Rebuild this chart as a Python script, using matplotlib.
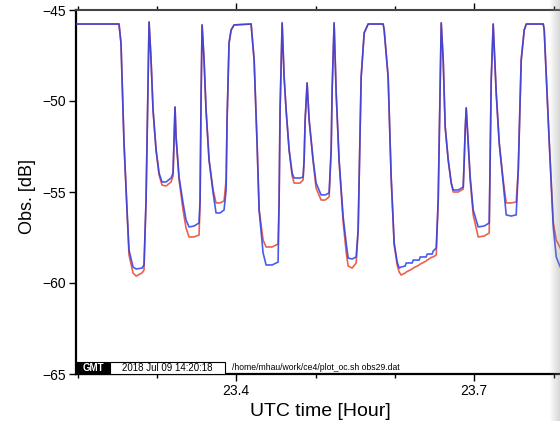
import numpy as np
import matplotlib.pyplot as plt
from matplotlib.patches import Rectangle

plt.rcParams['font.family'] = ['Liberation Sans', 'DejaVu Sans']

# UTC time [hour]
t = [23.1980, 23.2522, 23.2547, 23.2585, 23.2623, 23.2648, 23.2699, 23.2737, 23.2812, 23.2837, 23.2863, 23.2888, 23.2901,
     23.2926, 23.2951, 23.2989, 23.3027, 23.3064, 23.3115, 23.3178, 23.3203, 23.3216, 23.3228,
     23.3241, 23.3279, 23.3329, 23.3367, 23.3405, 23.3468, 23.3531, 23.3544, 23.3556, 23.3569,
     23.3594, 23.3619, 23.3657, 23.3708, 23.3745, 23.3796, 23.3846, 23.3872, 23.3884, 23.3909, 23.3935, 23.3972,
     23.4187, 23.4225, 23.4262, 23.4288, 23.4338, 23.4376, 23.4452, 23.4527, 23.4540, 23.4552, 23.4578,
     23.4603, 23.4628, 23.4666, 23.4704, 23.4729, 23.4805, 23.4842, 23.4855, 23.4868, 23.4893,
     23.4918, 23.4969, 23.5006, 23.5069, 23.5120, 23.5170, 23.5196, 23.5208, 23.5233,
     23.5259, 23.5296, 23.5347, 23.5385, 23.5410, 23.5460, 23.5511, 23.5536, 23.5574, 23.5612, 23.5662,
     23.5851, 23.5864, 23.5914, 23.5952, 23.5990, 23.6028, 23.6053, 23.6078,
     23.6129, 23.6141, 23.6217, 23.6230, 23.6305, 23.6318, 23.6393, 23.6406, 23.6469, 23.6482, 23.6520,
     23.6545, 23.6570, 23.6583, 23.6608, 23.6633, 23.6671, 23.6709, 23.6734, 23.6797, 23.6860,
     23.6873, 23.6885, 23.6898, 23.6923, 23.6948, 23.6986, 23.7049, 23.7125, 23.7188, 23.7201, 23.7213, 23.7238,
     23.7276, 23.7314, 23.7364, 23.7402, 23.7465, 23.7528, 23.7554, 23.7591, 23.7629, 23.7655,
     23.7869, 23.7881, 23.7945, 23.7995, 23.8033, 23.8083, 23.8146]

# blue trace [dB]
obs_blue = [-45.77, -45.77, -46.81, -52.31, -55.99, -58.19, -59.12, -59.23, -59.18, -59.01, -55.44, -48.85, -45.66,
            -47.75, -50.49, -52.69, -53.96, -54.45, -54.45, -54.23, -53.96, -52.14, -50.33,
            -51.98, -54.18, -55.60, -56.54, -56.92, -56.87, -56.70, -55.44, -49.95, -45.82,
            -47.75, -50.49, -53.24, -55.05, -56.15, -56.15, -55.99, -54.89, -51.04, -46.81, -46.10, -45.82,
            -45.77, -47.75, -52.31, -55.99, -58.35, -59.01, -59.01, -58.85, -55.44, -50.49, -45.71,
            -48.68, -50.49, -52.69, -53.96, -54.23, -54.23, -54.18, -53.24, -51.04, -49.01,
            -51.04, -53.24, -54.51, -55.16, -55.16, -55.05, -52.69, -49.40, -45.71,
            -49.56, -53.24, -56.37, -57.80, -58.63, -58.68, -58.57, -57.09, -48.68, -46.26, -45.77,
            -45.77, -46.10, -48.68, -54.18, -57.80, -58.85, -59.18, -59.12,
            -59.07, -58.90, -58.90, -58.74, -58.74, -58.57, -58.57, -58.41, -58.41, -58.24, -58.08,
            -55.44, -48.85, -45.71, -47.75, -51.43, -53.24, -54.51, -54.89, -54.89, -54.73,
            -53.24, -51.59, -50.38, -52.31, -54.18, -55.99, -56.92, -56.87, -56.70, -52.69, -48.85, -45.77,
            -49.56, -52.31, -54.51, -56.26, -56.32, -56.26, -53.79, -47.75, -46.10, -45.77,
            -45.77, -46.10, -52.31, -56.92, -58.57, -59.12, -59.56]

# red trace [dB]
obs_red = [-45.77, -45.77, -46.81, -52.31, -56.10, -58.46, -59.45, -59.62, -59.45, -59.29, -55.44, -48.85, -45.66,
           -47.75, -50.49, -52.69, -54.07, -54.62, -54.67, -54.45, -54.12, -52.14, -50.33,
           -51.98, -54.34, -55.99, -56.98, -57.47, -57.47, -57.36, -55.44, -49.95, -45.82,
           -47.75, -50.49, -53.24, -54.89, -55.60, -55.60, -55.49, -54.34, -51.04, -46.81, -46.10, -45.82,
           -45.77, -47.75, -52.31, -55.99, -57.64, -58.02, -58.02, -57.86, -55.44, -50.49, -45.71,
           -48.68, -50.49, -52.69, -54.12, -54.51, -54.51, -54.34, -53.24, -51.04, -49.01,
           -51.04, -53.35, -54.78, -55.44, -55.44, -55.27, -52.69, -49.40, -45.71,
           -49.56, -53.35, -56.65, -58.30, -59.07, -59.18, -58.90, -57.09, -48.68, -46.26, -45.77,
           -45.77, -46.10, -48.68, -54.18, -57.91, -59.01, -59.40, -59.56,
           -59.45, -59.40, -59.23, -59.18, -59.01, -58.96, -58.79, -58.74, -58.57, -58.57, -58.46,
           -55.44, -48.85, -45.71, -47.75, -51.43, -53.24, -54.51, -55.00, -55.00, -54.84,
           -53.24, -51.59, -50.38, -52.31, -54.34, -56.26, -57.47, -57.42, -57.25, -52.69, -48.85, -45.77,
           -49.56, -52.31, -54.34, -55.60, -55.60, -55.55, -53.79, -47.75, -46.10, -45.77,
           -45.77, -46.10, -52.31, -56.65, -57.64, -58.08, -58.30]

x_major = [23.4, 23.7]
x_minor = [23.2, 23.3, 23.5, 23.6, 23.8, 23.9]
y_major = [-65, -60, -55, -50, -45]

fig = plt.figure(figsize=(5.6, 4.21), dpi=100)
W, H = 560.0, 421.0
ax = fig.add_axes([76 / W, 47 / H, 557 / W, 364 / H])

ax.plot(t, obs_red, color='#e8452c', lw=1.2, alpha=0.85, solid_joinstyle='round', zorder=2)
ax.plot(t, obs_blue, color='#2a3fe8', lw=1.2, alpha=0.85, solid_joinstyle='round', zorder=3)

ax.set_xlim(23.198, 23.9)
ax.set_ylim(-65, -45)
ax.set_xticks(x_major)
ax.set_xticklabels(['23.4', '23.7'])
ax.set_xticks(x_minor, minor=True)
ax.set_yticks(y_major)
ax.set_yticklabels(['\u221265', '\u221260', '\u221255', '\u221250', '\u221245'])
ax.tick_params(which='both', direction='out', top=True, right=False, labelsize=10, width=1, pad=2)
ax.tick_params(which='major', length=5)
ax.tick_params(which='minor', length=3)
for s in ['left', 'bottom']:
    ax.spines[s].set_linewidth(1.6)
ax.spines['top'].set_linewidth(1.5)
ax.spines['top'].set_color('#444444')

fig.text(28 / W, 1 - 196 / H, 'Obs. [dB]', rotation=90, ha='center', va='center', fontsize=13)
fig.text(320 / W, 1 - 403 / H, 'UTC time [Hour]', ha='center', va='top', fontsize=14)

# GMT time stamp
fig.add_artist(Rectangle((76 / W, 47 / H), 34 / W, 12 / H, transform=fig.transFigure,
                         facecolor='black', edgecolor='black', lw=0.8))
fig.text(93 / W, 53 / H, 'GMT', color='white', fontsize=7, fontweight='bold', ha='center', va='center')
fig.add_artist(Rectangle((110 / W, 47 / H), 115 / W, 12 / H, transform=fig.transFigure,
                         facecolor='white', edgecolor='black', lw=0.8))
fig.text(167 / W, 53 / H, '2018 Jul 09 14:20:18', fontsize=7, ha='center', va='center')
fig.text(232 / W, 48.5 / H, '/home/mhau/work/ce4/plot_oc.sh obs29.dat', fontsize=6.2, va='bottom')

# light shadow on right edge
sh = fig.add_axes([549 / W, 0, 11 / W, 1])
img = np.zeros((1, 40, 4))
img[..., :3] = 0.55
img[..., 3] = np.linspace(0, 0.35, 40)
sh.imshow(img, aspect='auto')
sh.axis('off')
sh.patch.set_visible(False)

fig.savefig('out.png', dpi=100)
